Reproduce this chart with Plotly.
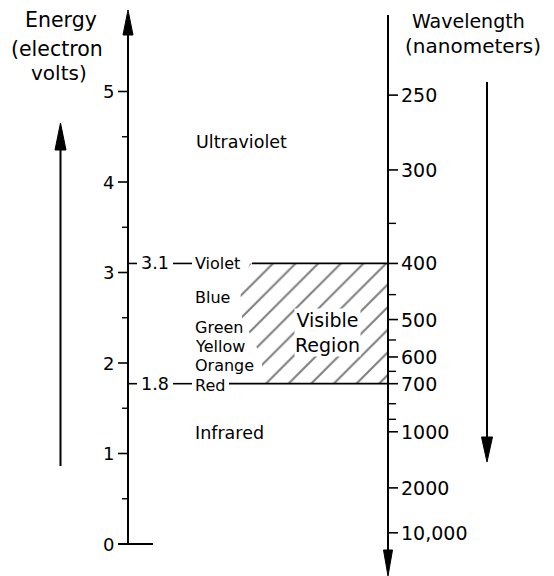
import plotly.graph_objects as go

# Energy scale (electron volts)
energy_major = [0, 1, 2, 3, 4, 5]
energy_minor = [0.5, 1.5, 2.5, 3.5, 4.5]

# Wavelength scale (nanometers), placed with E = 1240 / wavelength
wl_major = [250, 300, 400, 500, 600, 700, 1000, 2000, 10000]
wl_major_text = ["250", "300", "400", "500", "600", "700", "1000", "2000", "10,000"]
wl_minor = [350, 450, 550, 650, 800, 900]

# Visible region limits (nm)
visible_nm = [400, 700]

# Colour names and their approximate energies (eV)
color_names = ["Violet", "Blue", "Green", "Yellow", "Orange", "Red"]
color_ev = [3.1, 2.72, 2.387, 2.177, 1.967, 1.746]

HC = 1240.0  # eV*nm

# page is drawn with an 8px body margin, so the figure sits at (8, 8)
OFF = 8
W, H = 554 - OFF, 576 - OFF
PX_PER_EV = 90.5
E0_PX = 544  # page row of 0 eV
AX_L = 128   # energy axis
AX_R = 388   # wavelength axis
FONT = "DejaVu Sans"


def ev(py):
    # page pixel row -> energy, for placing decorations
    return (E0_PX - py) / PX_PER_EV


def seg(x0, y0, x1, y1, width=2):
    return dict(type="line", xref="x", yref="y", x0=x0, y0=y0, x1=x1, y1=y1,
                line=dict(color="black", width=width))


def head(x, tip_py, base_py, half):
    return dict(type="path", xref="x", yref="y",
                path=f"M{x},{ev(tip_py)} L{x - half},{ev(base_py)} L{x + half},{ev(base_py)} Z",
                fillcolor="black", line=dict(color="black", width=1))


def label(text, x, y, size=17.5, xanchor="left", bg=None):
    return dict(text=text, x=x, y=y, xref="x", yref="y", showarrow=False,
                xanchor=xanchor, yanchor="middle", bgcolor=bg, borderpad=0,
                font=dict(family=FONT, size=size, color="black"))


region_ev = [HC / nm for nm in visible_nm]
e_top, e_bot = max(region_ev), min(region_ev)

fig = go.Figure()

# Hatched visible region, left edge following the colour names
hatch_x = [250, AX_R, AX_R, 262, 262, 242, 240, 250]
hatch_y = [e_top, e_top, e_bot, e_bot, ev(358), ev(318), ev(285), e_top]
fig.add_trace(go.Scatter(
    x=hatch_x, y=hatch_y,
    mode="lines", fill="toself", line=dict(width=0),
    fillcolor="white",
    fillpattern=dict(shape="/", size=16, solidity=0.13, fgcolor="black", bgcolor="white"),
    hoverinfo="skip", showlegend=False,
))

shapes = []
annotations = []

# Energy axis with arrow
shapes.append(seg(AX_L, 0, AX_L, ev(30)))
shapes.append(head(AX_L, 10, 35, 5))
shapes.append(seg(118, 0, 153, 0))
for e in energy_major:
    shapes.append(seg(118, e, AX_L, e, 1.6))
    annotations.append(label(str(e), 115, e, size=18, xanchor="right"))
for e in energy_minor:
    shapes.append(seg(122, e, AX_L, e, 1.4))

# Marked energies 3.1 and 1.8
for e in region_ev:
    shapes.append(seg(AX_L, e, 137, e, 1.6))
    annotations.append(label(f"{e:.1f}", 140, e, size=17.5))
    shapes.append(seg(173, e, 192, e, 1.6))

for name, e in zip(color_names, color_ev):
    annotations.append(label(name, 194, e, size=16))

# Visible region borders
shapes.append(seg(252, e_top, AX_R, e_top, 1.8))
shapes.append(seg(229, e_bot, AX_R, e_bot, 1.8))

# Wavelength axis with arrow
shapes.append(seg(AX_R, ev(15), AX_R, ev(552)))
shapes.append(head(AX_R, 576, 550, 4.5))
for nm, txt in zip(wl_major, wl_major_text):
    e = HC / nm
    shapes.append(seg(AX_R, e, 398, e, 1.6))
    annotations.append(label(txt, 400, e, size=19))
for nm in wl_minor:
    e = HC / nm
    shapes.append(seg(AX_R, e, 396, e, 1.4))

# Side arrows
shapes.append(seg(60.5, ev(466), 60.5, ev(145)))
shapes.append(head(60.5, 123, 150, 5.5))
shapes.append(seg(487, ev(82), 487, ev(440)))
shapes.append(head(487, 462, 437, 5.5))

# Region names
annotations.append(label("Ultraviolet", 195, ev(142)))
annotations.append(label("Infrared", 194, ev(433)))
annotations.append(label("Visible<br>Region", 327, ev(332), size=19, xanchor="center", bg="white"))

# Axis titles
annotations.append(label("Energy", 61, ev(20), size=20.5, xanchor="center"))
annotations.append(label("(electron", 57, ev(49), size=20.5, xanchor="center"))
annotations.append(label("volts)", 59, ev(73), size=20, xanchor="center"))
annotations.append(label("Wavelength", 468, ev(21), size=19, xanchor="center"))
annotations.append(label("(nanometers)", 473, ev(46), size=20, xanchor="center"))

fig.update_layout(
    width=W,
    height=H,
    margin=dict(l=0, r=0, t=0, b=0),
    plot_bgcolor="white",
    paper_bgcolor="white",
    xaxis=dict(range=[OFF, OFF + W], visible=False, fixedrange=True),
    yaxis=dict(range=[ev(OFF + H), ev(OFF)], visible=False, fixedrange=True),
    shapes=shapes,
    annotations=annotations,
    showlegend=False,
)

fig.write_html("out.html")
